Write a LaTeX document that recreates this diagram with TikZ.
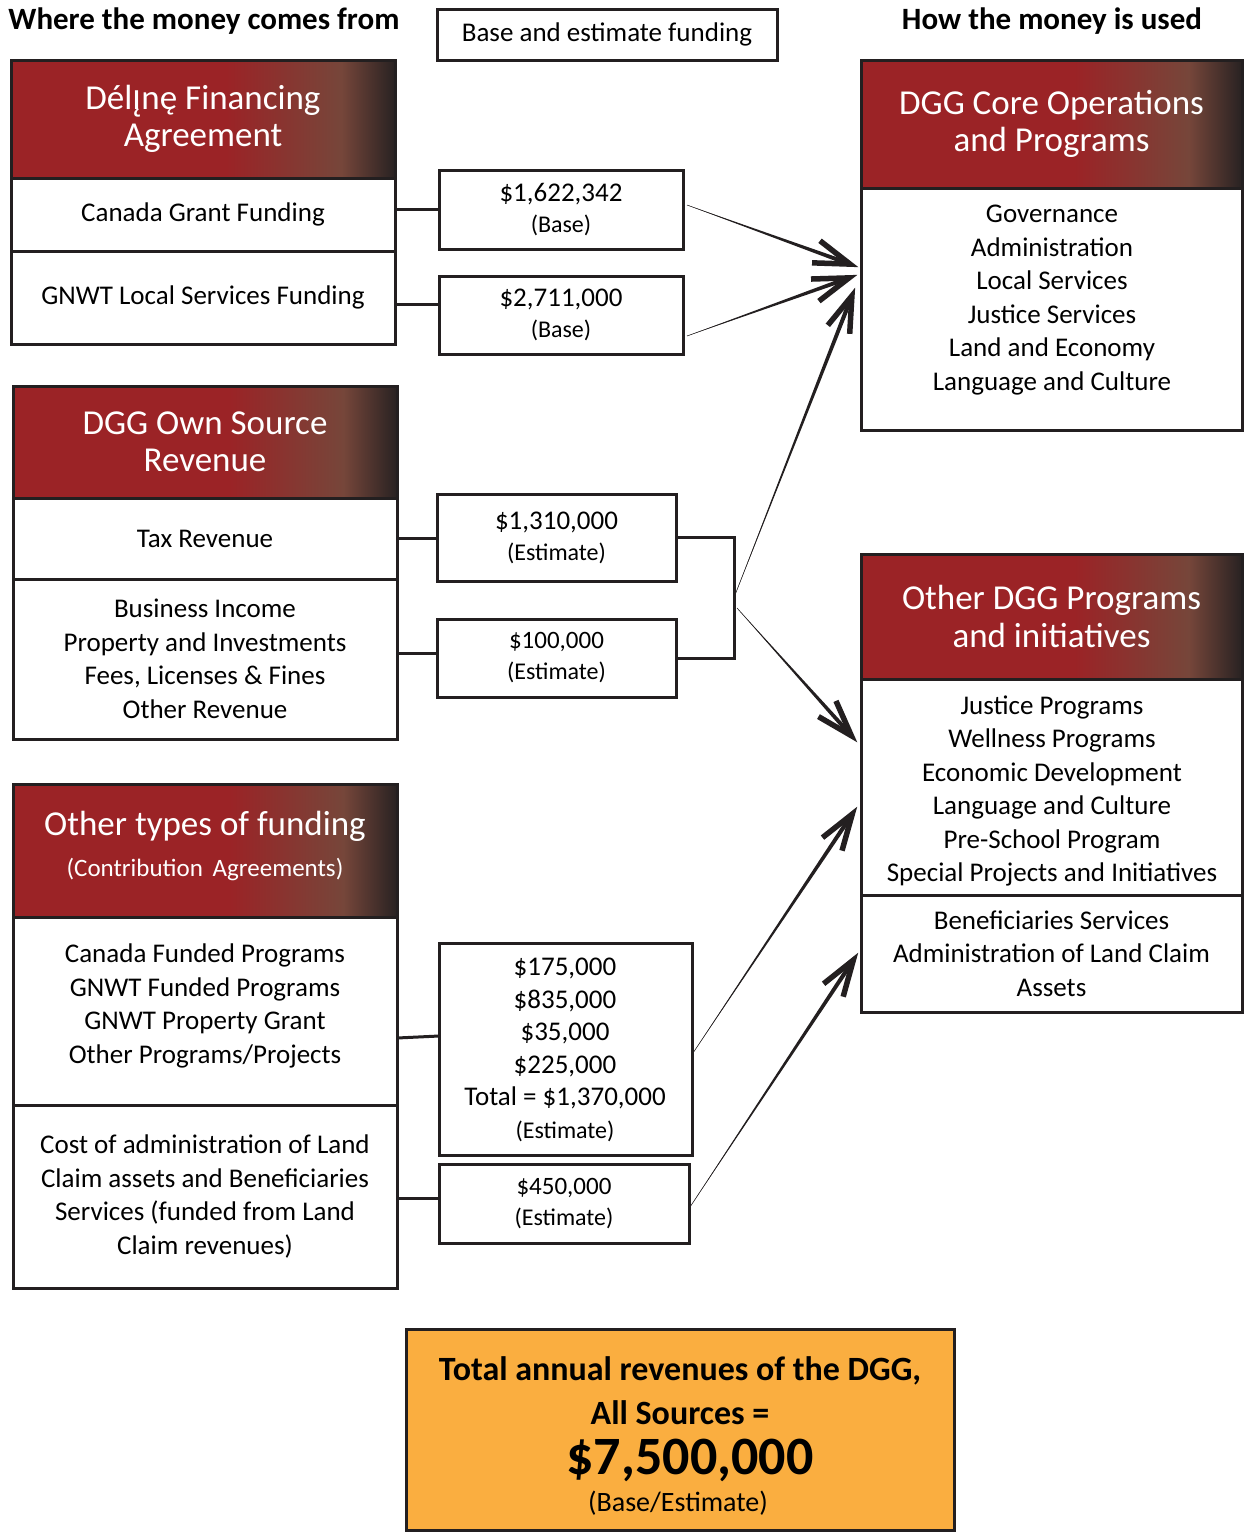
\documentclass[tikz,border=0pt]{standalone}
\usepackage{fontspec}
\setmainfont{Carlito}
\newfontfamily\ogfont{Noto Sans}
\usetikzlibrary{calc,shadings}
\definecolor{ink}{RGB}{35,31,32}
\definecolor{hred}{RGB}{155,35,38}
\definecolor{hbrown}{RGB}{118,70,58}
\definecolor{hdark}{RGB}{40,34,34}
\definecolor{gold}{RGB}{250,174,64}
\pgfdeclarehorizontalshading{hdr}{100bp}{color(0bp)=(hred); color(25bp)=(hred); color(53bp)=(hred); color(68bp)=(hbrown); color(75bp)=(hdark); color(100bp)=(hdark)}
\tikzset{
 grp/.style={draw=ink, line width=3pt, fill=white, inner sep=0pt, outer sep=0pt, align=center, text=black, font=\fontsize{27}{33.5}\selectfont},
 hdrbox/.style={grp, shade, shading=hdr, text=white, font=\fontsize{35}{37.5}\selectfont},
 amt/.style={grp, font=\fontsize{27}{31}\selectfont},
 txt/.style={align=center, inner sep=0pt, text=black, font=\fontsize{27}{33.5}\selectfont},
 ttl/.style={inner sep=0pt, font=\fontsize{31}{36}\selectfont\bfseries},
 conn/.style={draw=ink, line width=3pt},
}
\newcommand\rect[6]{\node[#2, anchor=north west, minimum width={#5-#3}, minimum height={#6-#4}] (#1) at (#3,#4)}
\newcommand\sm{\fontsize{24}{28}\selectfont}
\newcommand\flow[2]{%
 \coordinate (tmpT) at ($(#2)!8.5pt!(#1)$);
 \fill[ink] (#1) -- ($(tmpT)!2.2pt!90:(#1)$) -- ($(tmpT)!2.2pt!-90:(#1)$) -- cycle;
 \draw[ink, line width=0.5pt] (#1) -- (tmpT);
 \draw[ink, line width=5.5pt, line join=miter, miter limit=20] ($(tmpT)!38pt!18:(#1)$) -- (tmpT) -- ($(tmpT)!38pt!-18:(#1)$);
}
\begin{document}
\begin{tikzpicture}[x=1pt,y=-1pt]
\useasboundingbox (0,0) rectangle (1244,1532);
\fill[white] (0,0) rectangle (1244,1532);
% titles
\node[ttl] (tl) at (204,21) {Where the money comes from};
\node[ttl] (tr) at (1052,21) {How the money is used};
\rect{leg}{grp}{437}{9}{777}{60} {Base and estimate funding};
% left group 1
\rect{h1}{hdrbox}{11}{60}{395}{178} {Dél{\ogfont ı̨}nę Financing\\Agreement};
\rect{r1a}{grp}{11}{178}{395}{251} {Canada Grant Funding};
\rect{r1b}{grp}{11}{251}{395}{344} {GNWT Local Services Funding};
% left group 2
\rect{h2}{hdrbox}{13}{386}{397}{498} {DGG Own Source\\Revenue};
\rect{r2a}{grp}{13}{498}{397}{579} {Tax Revenue};
\rect{r2b}{grp}{13}{579}{397}{739} {Business Income\\Property and Investments\\Fees, Licenses \& Fines\\Other Revenue};
% left group 3
\rect{h3}{hdrbox}{13}{784}{397}{917} {};
\node[txt, text=white, font=\fontsize{35}{41}\selectfont] (h3t) at (205,846) {Other types of funding\\{\fontsize{25}{28}\selectfont (Contribution\ \,Agreements)}};
\rect{r3a}{grp}{13}{917}{397}{1105} {};
\node[txt] (r3at) at (205,1006) {Canada Funded Programs\\GNWT Funded Programs\\GNWT Property Grant\\Other Programs/Projects};
\rect{r3b}{grp}{13}{1105}{397}{1288} {Cost of administration of Land\\Claim assets and Beneficiaries\\Services (funded from Land\\Claim revenues)};
% amount boxes
\rect{b1}{amt}{439}{170}{683}{249} {\$1,622,342\\{\sm (Base)}};
\rect{b2}{amt}{439}{276}{683}{354} {\$2,711,000\\{\sm (Base)}};
\rect{b3}{amt}{437}{494}{676}{581} {\$1,310,000\\{\sm (Estimate)}};
\rect{b4}{amt}{437}{619}{676}{697} {{\fontsize{25}{30}\selectfont \$100,000}\\{\sm (Estimate)}};
\rect{b5}{grp}{439}{943}{692}{1155} {};
\node[txt, font=\fontsize{27}{32.5}\selectfont] (b5t) at (565,1050) {\$175,000\\\$835,000\\\$35,000\\\$225,000\\Total = \$1,370,000\\{\sm (Estimate)}};
\rect{b6}{amt}{439}{1164}{689}{1243} {{\fontsize{25}{30}\selectfont \$450,000}\\{\sm (Estimate)}};
% right groups
\rect{hc}{hdrbox}{861}{60}{1242}{188} {DGG Core Operations\\and Programs};
\rect{rc}{grp}{861}{188}{1242}{430} {};
\node[txt] (rct) at (1052,300) {Governance\\Administration\\Local Services\\Justice Services\\Land and Economy\\Language and Culture};
\rect{ho}{hdrbox}{861}{554}{1242}{679} {Other DGG Programs\\and initiatives};
\rect{ro1}{grp}{861}{679}{1242}{895} {};
\node[txt] (ro1t) at (1052,791) {Justice Programs\\Wellness Programs\\Economic Development\\Language and Culture\\Pre-School Program\\Special Projects and Initiatives};
\rect{ro2}{grp}{861}{895}{1242}{1012} {Beneficiaries Services\\Administration of Land Claim\\Assets};
% total
\rect{tot}{grp}{406}{1329}{954}{1530} {};
\fill[gold] (tot.north west) rectangle (tot.south east);
\draw[ink, line width=3pt] (tot.north west) rectangle (tot.south east);
\node[txt, font=\fontsize{34}{42}\selectfont\bfseries] (tott1) at (680,1371) {Total annual revenues of the DGG,};
\node[txt, font=\fontsize{34}{42}\selectfont\bfseries] (tott2) at (680,1413) {All Sources =};
\node[txt, font=\fontsize{54}{60}\selectfont\bfseries] (tott3) at (690,1460) {\$7,500,000};
\node[txt, font=\fontsize{28}{34}\selectfont] (tott4) at (678,1503) {(Base/Estimate)};
% connectors
\draw[conn] (r1a.east |- b1.west) -- (b1.west);
\draw[conn] ($(r1b.east)+(0,6.5)$) -- ($(b2.west)+(0,-11)$);
\draw[conn] (r2a.east) -- (r2a.east -| b3.west);
\draw[conn] ($(r2b.east)+(0,-6)$) -- ($(b4.west)+(0,-5)$);
\draw[conn] ($(r3a.east)+(0,27)$) -- ($(b5.west)+(0,-13)$);
\draw[conn] ($(r3b.east)+(0,1.5)$) -- ($(b6.west)+(0,-5.5)$);
\draw[conn] (b3.east) -- ++(58,0) coordinate (brk) |- (b4.east);
% arrows
\coordinate (a1s) at ($(b1.east)+(4,-4.5)$);
\coordinate (a1e) at ($(rc.north west)+(-3,79)$);
\coordinate (a2s) at ($(b2.east)+(4,21)$);
\coordinate (a2e) at ($(rc.north west)+(-4,87)$);
\coordinate (a3s) at ($(b3.east)+(59,57.5)$);
\coordinate (a3e) at ($(rc.north west)+(-6,100)$);
\coordinate (a4s) at ($(b3.east)+(61,70.5)$);
\coordinate (a4e) at ($(ro1.north west)+(-4,63)$);
\coordinate (a5s) at ($(b5.east)+(1,4)$);
\coordinate (a5e) at ($(ro1.north west)+(-4,128)$);
\coordinate (a6s) at ($(b6.east)+(1,3.5)$);
\coordinate (a6e) at ($(ro2.north west)+(-3,58)$);
\flow{a1s}{a1e}
\flow{a2s}{a2e}
\flow{a3s}{a3e}
\flow{a4s}{a4e}
\flow{a5s}{a5e}
\flow{a6s}{a6e}
\end{tikzpicture}
\end{document}
